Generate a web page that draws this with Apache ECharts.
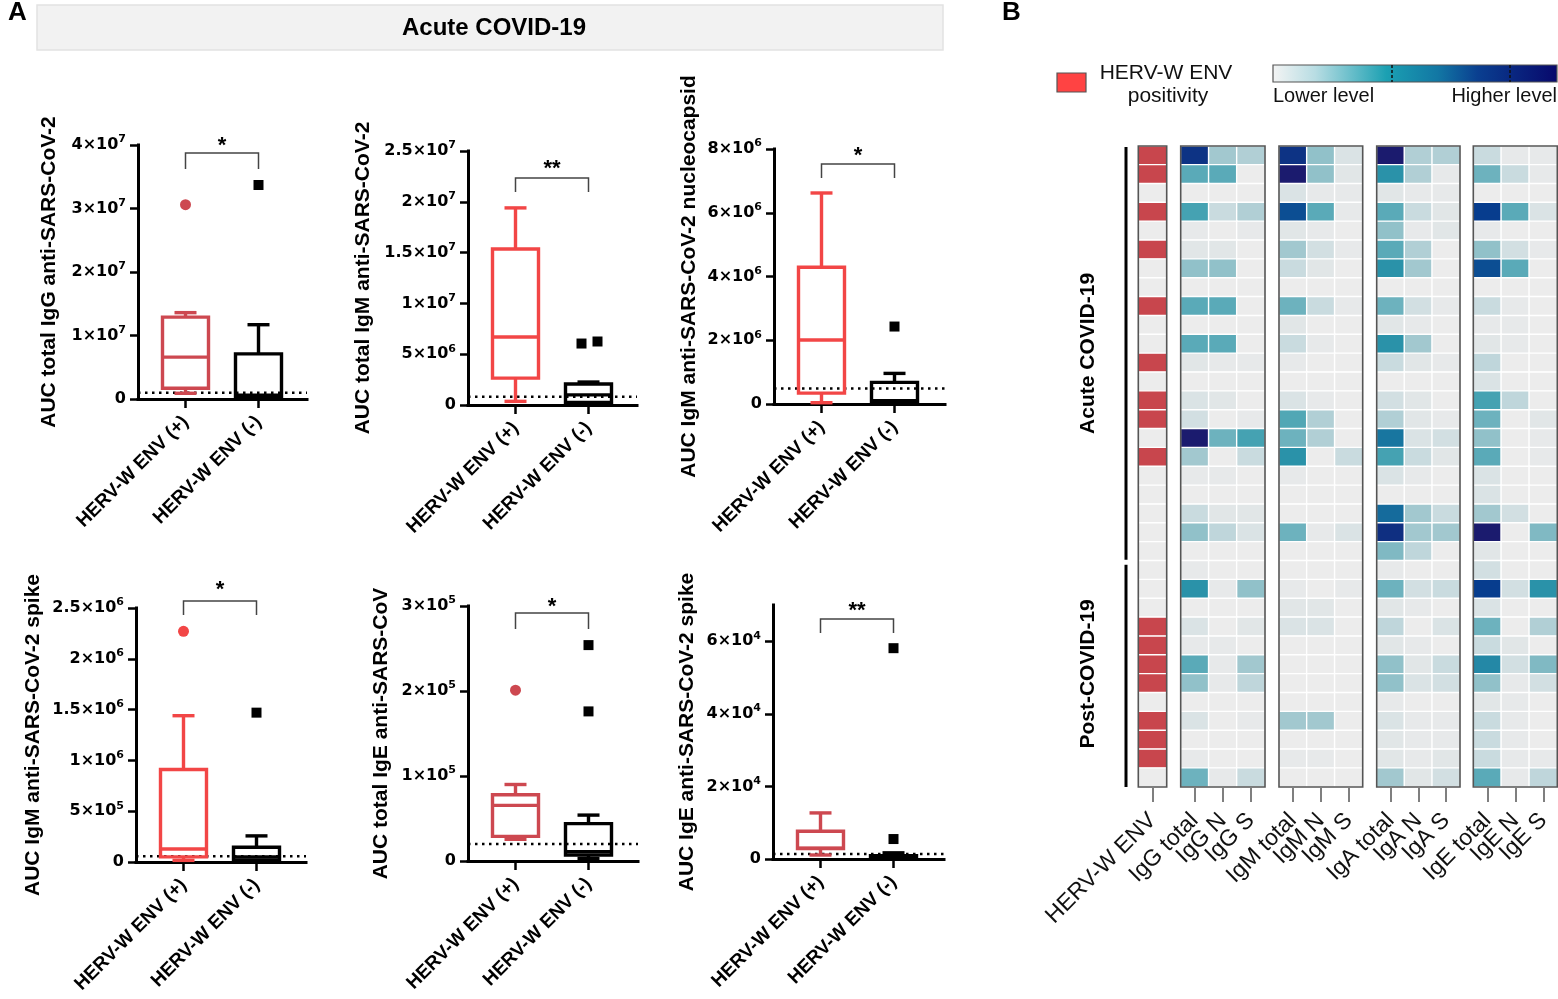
<!DOCTYPE html>
<html><head><meta charset="utf-8">
<script src="https://cdn.jsdelivr.net/npm/echarts@6/dist/echarts.min.js"></script>
<style>html,body{margin:0;padding:0;background:#fff}#c{width:1558px;height:999px}</style>
</head><body><div id="c"></div>
<script>
// ---------------- DATA ----------------
const groupLabels = ['HERV-W ENV (+)', 'HERV-W ENV (-)'];
const panelTitles = [
  'AUC total IgG anti-SARS-CoV-2',
  'AUC total IgM anti-SARS-CoV-2',
  'AUC IgM anti-SARS-CoV-2 nucleocapsid',
  'AUC IgM anti-SARS-CoV-2 spike',
  'AUC total IgE anti-SARS-CoV',
  'AUC IgE anti-SARS-CoV-2 spike'
];
const panelSignif = ['*', '**', '*', '*', '*', '**'];
const panelMax = [4e7, 2.5e7, 8e6, 2.5e6, 3e5, 7e4];
const panelTicks = [
  [0, 1e7, 2e7, 3e7, 4e7],
  [0, 5e6, 1e7, 1.5e7, 2e7, 2.5e7],
  [0, 2e6, 4e6, 6e6, 8e6],
  [0, 5e5, 1e6, 1.5e6, 2e6, 2.5e6],
  [0, 1e5, 2e5, 3e5],
  [0, 2e4, 4e4, 6e4]
];
// [min, Q1, median, Q3, max]
const posBoxes = [
  [9e5, 1.7e6, 6.6e6, 1.29e7, 1.36e7],
  [3.6e5, 2.65e6, 6.7e6, 1.535e7, 1.94e7],
  [4e4, 3.4e5, 2.01e6, 4.29e6, 6.62e6],
  [1.6e4, 5e4, 1.28e5, 9.1e5, 1.44e6],
  [2.55e4, 2.9e4, 6.55e4, 7.8e4, 9e4],
  [1.1e3, 2.9e3, 3.0e3, 7.65e3, 1.27e4]
];
const negBoxes = [
  [2e5, 4e5, 6e5, 7.1e6, 1.17e7],
  [1.3e5, 2.6e5, 1.0e6, 2.06e6, 2.26e6],
  [3e4, 6e4, 1e5, 6.8e5, 9.6e5],
  [1e4, 2e4, 5e4, 1.45e5, 2.57e5],
  [3e3, 7e3, 1.1e4, 4.4e4, 5.4e4],
  [2e2, 4e2, 6e2, 9e2, 1.7e3]
];
const posOutliers = [[3.06e7], [], [], [2.27e6], [2.01e5], []];
const negOutliers = [[3.37e7], [6.05e6, 6.25e6], [2.43e6], [1.47e6], [1.76e5, 2.54e5], [5.5e3, 5.81e4]];
const thresholds = [1e6, 8.2e5, 4.9e5, 5.6e4, 2e4, 1.4e3];

// Heatmap
const hervLabel = ['HERV-W ENV'];
const igGLabels = ['IgG total', 'IgG N', 'IgG S'];
const igMLabels = ['IgM total', 'IgM N', 'IgM S'];
const igALabels = ['IgA total', 'IgA N', 'IgA S'];
const igELabels = ['IgE total', 'IgE N', 'IgE S'];
const hervPositive = [1,1,0,1,0,1,0,0,1,0,0,1,0,1,1,0,1,0,0,0,0,0,0,0,0,1,1,1,1,0,1,1,1,0];
const igG = [
  [0.93,0.4,0.35],[0.6,0.6,0],[0,0,0],[0.65,0.25,0.35],[0.05,0,0.05],[0.1,0.1,0],[0.45,0.45,0],[0,0,0],
  [0.6,0.6,0],[0,0,0],[0.6,0.6,0],[0.1,0.05,0.05],[0,0,0],[0.15,0.1,0],[0.2,0,0.05],[1.0,0.55,0.65],
  [0.4,0,0.25],[0.05,0.05,0],[0,0,0],[0.25,0.1,0.1],[0.45,0.3,0.15],[0,0,0],[0.05,0,0],[0.72,0.05,0.45],
  [0,0,0],[0.15,0,0.1],[0.05,0.05,0],[0.6,0.05,0.4],[0.45,0.05,0.3],[0,0,0],[0.15,0,0.05],[0,0,0],
  [0.05,0,0],[0.55,0.05,0.25]
];
const igM = [
  [0.93,0.45,0.15],[1.0,0.45,0.1],[0.15,0.05,0.05],[0.87,0.6,0.05],[0.1,0.05,0],[0.4,0.2,0.05],[0.25,0.1,0],[0,0,0],
  [0.55,0.25,0.05],[0.1,0,0],[0.25,0.05,0],[0.05,0,0],[0,0,0],[0.15,0.05,0],[0.62,0.35,0],[0.55,0.35,0],
  [0.72,0,0.25],[0.05,0,0],[0,0,0],[0,0,0],[0.55,0.05,0.15],[0,0,0],[0,0,0],[0.05,0,0.05],
  [0.1,0.1,0],[0.15,0.15,0],[0,0,0],[0,0,0],[0,0,0],[0,0,0],[0.4,0.4,0],[0,0,0],
  [0.05,0.05,0],[0,0,0]
];
const igA = [
  [1.0,0.35,0.35],[0.72,0.35,0.05],[0.1,0.05,0.05],[0.6,0.25,0.1],[0.45,0.05,0.1],[0.6,0.35,0],[0.72,0.4,0],[0,0,0],
  [0.55,0.2,0.05],[0.1,0.05,0],[0.72,0.4,0],[0.25,0.1,0.05],[0,0,0],[0.2,0.1,0],[0.35,0.1,0.05],[0.8,0.15,0.2],
  [0.65,0.25,0.1],[0.15,0.05,0],[0,0,0],[0.82,0.4,0.25],[0.94,0.4,0.4],[0.5,0.3,0],[0.05,0,0],[0.55,0.2,0.25],
  [0.1,0.05,0],[0.3,0,0.15],[0.1,0.05,0],[0.45,0.1,0.25],[0.45,0.15,0.2],[0.05,0,0],[0.15,0.05,0.05],[0.1,0.05,0.05],
  [0.1,0.05,0.1],[0.4,0.1,0.2]
];
const igE = [
  [0.25,0.05,0.05],[0.55,0.25,0.05],[0,0,0],[0.9,0.6,0.15],[0.05,0,0],[0.45,0.2,0.05],[0.87,0.6,0],[0,0,0],
  [0.25,0.05,0],[0.05,0.05,0],[0.1,0.05,0],[0.3,0,0],[0.15,0,0],[0.65,0.3,0],[0.55,0,0.1],[0.45,0,0.05],
  [0.6,0,0.05],[0.15,0,0],[0.15,0,0],[0.4,0.2,0],[1.0,0,0.5],[0.1,0,0],[0.2,0,0],[0.9,0.2,0.72],
  [0.15,0,0],[0.55,0,0.35],[0.25,0.1,0],[0.75,0.2,0.5],[0.45,0.05,0.2],[0.1,0.05,0],[0.25,0.05,0],[0.25,0.05,0],
  [0.25,0.05,0.05],[0.6,0.05,0.3]
];

// ---------------- LAYOUT / STYLE ----------------
const FONT = '"Liberation Sans", Arial, Helvetica, sans-serif';
const TICKFONT = '"DejaVu Sans", "Liberation Sans", sans-serif';
const frames = [
  {l:138, t:145, w:169, b:399, gap:78, br:[8,24,-5]},
  {l:468, t:151, w:169, b:405, gap:94, br:[27,41,12]},
  {l:774, t:149, w:171, b:404, gap:74, br:[15,29,1]},
  {l:136, t:608, w:170, b:862, gap:92, br:[-7,7,-24]},
  {l:468, t:606, w:170, b:861, gap:76, br:[7,23,-5]},
  {l:773, t:605, w:171, b:859, gap:75, br:[14,28,0]}
];
const posColors = ['#cd4850', '#f24646', '#f24646', '#f24646', '#cd4850', '#cd4850'];
const negJitter = [[0], [-7, 9], [0], [0], [0, 0], [0, 0]];
const BOX_W = 46, CAP_W = 22, INNER_OFF = 11, INNER_W = 146, LW = 3.4;

const heatTop = 146, heatBottom = 787;
const heatGroups = [
  {left:1138.3, width:28.4, labels:hervLabel, rows:null},
  {left:1180.7, width:84.3, labels:igGLabels, rows:igG},
  {left:1279, width:83.7, labels:igMLabels, rows:igM},
  {left:1376.7, width:83.3, labels:igALabels, rows:igA},
  {left:1473.3, width:84, labels:igELabels, rows:igE}
];
const heatPalette = ['#ececec','#e1e6e7','#d2dfe2','#bfd6db','#a2c8cf','#80b9c3','#5aaab8','#2f99ab','#1876a0','#073d8e','#1b1b6e'];

function sci(v) {
  if (v === 0) return '{m|0}';
  const e = Math.floor(Math.log10(v) + 1e-9);
  const m = +(v / Math.pow(10, e)).toFixed(2);
  return '{m|' + m + '×10}{e|' + e + '}';
}

const grids = [], xAxes = [], yAxes = [], series = [];

panelTitles.forEach((title, i) => {
  const F = frames[i];
  const h = F.b - F.t;
  grids.push({left:F.l, top:F.t, width:F.w, height:h});
  const gF = grids.length - 1;
  xAxes.push({gridIndex:gF, type:'value', min:0, max:1, axisLine:{show:true, lineStyle:{color:'#000', width:3, cap:'square'}},
    axisTick:{show:false}, axisLabel:{show:false}, splitLine:{show:false}});
  const xF = xAxes.length - 1;
  yAxes.push({gridIndex:gF, type:'value', min:0, max:panelMax[i],
    name:title, nameLocation:'middle', nameGap:F.gap,
    nameTextStyle:{fontFamily:FONT, fontWeight:'bold', fontSize:21, color:'#000'},
    axisLine:{show:true, lineStyle:{color:'#000', width:3, cap:'square'}},
    axisTick:{show:true, length:8, lineStyle:{color:'#000', width:2.5}, customValues:panelTicks[i]},
    axisLabel:{customValues:panelTicks[i], margin:12, formatter:sci,
      rich:{m:{fontFamily:TICKFONT, fontWeight:'bold', fontSize:16, color:'#000', lineHeight:22},
            e:{fontFamily:TICKFONT, fontWeight:'bold', fontSize:11, color:'#000', lineHeight:8, verticalAlign:'top'}}},
    splitLine:{show:false}});
  const yF = yAxes.length - 1;
  grids.push({left:F.l + INNER_OFF, top:F.t, width:INNER_W, height:h});
  const gD = grids.length - 1;
  xAxes.push({gridIndex:gD, type:'category', data:groupLabels, axisLine:{show:false},
    axisTick:{show:true, alignWithLabel:true, length:9, lineStyle:{color:'#000', width:2.5}},
    axisLabel:{rotate:45, interval:0, margin:20, fontFamily:FONT, fontWeight:'bold', fontSize:19, color:'#000'},
    splitLine:{show:false}});
  const xD = xAxes.length - 1;
  yAxes.push({gridIndex:gD, type:'value', min:0, max:panelMax[i], show:false, splitLine:{show:false}});
  const yD = yAxes.length - 1;

  series.push({type:'line', xAxisIndex:xF, yAxisIndex:yF, silent:true, symbol:'none',
    data:[[0, thresholds[i]], [1, thresholds[i]]],
    lineStyle:{color:'#000', width:2.5, type:[2.5, 4.5]}, z:1});

  const posColor = posColors[i];
  series.push({type:'custom', xAxisIndex:xD, yAxisIndex:yD, clip:false, silent:true,
    encode:{x:0, y:[1,2,3,4,5]},
    data:[[0].concat(posBoxes[i]), [1].concat(negBoxes[i])],
    renderItem:function(params, api){
      const idx = api.value(0);
      const v = [1,2,3,4,5].map(k => api.value(k));
      const ys = v.map(val => api.coord([idx, val])[1]);
      const cx = api.coord([idx, v[2]])[0];
      const color = idx === 0 ? posColor : '#000';
      const ls = {stroke:color, lineWidth:LW, fill:'transparent'};
      const hw = BOX_W / 2, hc = CAP_W / 2;
      return {type:'group', children:[
        {type:'line', shape:{x1:cx, y1:ys[4], x2:cx, y2:ys[3]}, style:ls},
        {type:'line', shape:{x1:cx, y1:ys[1], x2:cx, y2:ys[0]}, style:ls},
        {type:'line', shape:{x1:cx-hc, y1:ys[4], x2:cx+hc, y2:ys[4]}, style:ls},
        {type:'line', shape:{x1:cx-hc, y1:ys[0], x2:cx+hc, y2:ys[0]}, style:ls},
        {type:'rect', shape:{x:cx-hw, y:ys[3], width:BOX_W, height:ys[1]-ys[3]}, style:ls},
        {type:'line', shape:{x1:cx-hw, y1:ys[2], x2:cx+hw, y2:ys[2]}, style:ls}
      ]};
    }});

  series.push({type:'scatter', xAxisIndex:xD, yAxisIndex:yD, silent:true, symbol:'circle', symbolSize:11,
    itemStyle:{color:posColor, opacity:1}, data:posOutliers[i].map(v => [0, v])});
  series.push({type:'scatter', xAxisIndex:xD, yAxisIndex:yD, silent:true, symbol:'rect', symbolSize:10,
    itemStyle:{color:'#000', opacity:1},
    data:negOutliers[i].map((v, k) => ({value:[1, v], symbolOffset:[negJitter[i][k] || 0, 0]}))});

  const br = F.br, sig = panelSignif[i], mx = panelMax[i];
  series.push({type:'custom', xAxisIndex:xD, yAxisIndex:yD, clip:false, silent:true,
    encode:{x:0, y:1}, data:[[0, mx]],
    renderItem:function(params, api){
      const a = api.coord([0, mx]), b = api.coord([1, mx]);
      const top = a[1];
      const y1 = top + br[0], y2 = top + br[1];
      return {type:'group', children:[
        {type:'polyline', shape:{points:[[a[0], y2], [a[0], y1], [b[0], y1], [b[0], y2]]},
          style:{stroke:'#444', lineWidth:1.5, fill:'transparent'}},
        {type:'text', style:{x:(a[0]+b[0])/2, y:top + br[2] + 6, text:sig, align:'center', verticalAlign:'middle',
          fontFamily:FONT, fontWeight:'bold', fontSize:22, fill:'#000'}}
      ]};
    }});
});

// ---------------- HEATMAP ----------------
const rowCats = hervPositive.map((_, k) => String(k));
const hervSeries = [], igSeries = [];
heatGroups.forEach((G, gi) => {
  grids.push({left:G.left, top:heatTop, width:G.width, height:heatBottom - heatTop, show:true,
    borderColor:'#555', borderWidth:1.6, backgroundColor:'transparent', z:5});
  const g = grids.length - 1;
  xAxes.push({gridIndex:g, type:'category', data:G.labels, position:'bottom', axisLine:{show:false},
    axisTick:{show:true, alignWithLabel:true, length:15, lineStyle:{color:'#555', width:1.5}},
    axisLabel:{rotate:45, interval:0, hideOverlap:false, margin:30, fontFamily:FONT, fontSize:23, color:'#111'},
    splitLine:{show:false}});
  const xi = xAxes.length - 1;
  yAxes.push({gridIndex:g, type:'category', data:rowCats, inverse:true, show:false});
  const yi = yAxes.length - 1;
  let data;
  if (G.rows === null) {
    data = hervPositive.map((v, r) => [0, r, v]);
  } else {
    data = [];
    G.rows.forEach((row, r) => row.forEach((v, c) => data.push([c, r, v])));
  }
  series.push({type:'heatmap', xAxisIndex:xi, yAxisIndex:yi, silent:true, data:data,
    itemStyle:{borderColor:'#ffffff', borderWidth:1.4}});
  if (G.rows === null) hervSeries.push(series.length - 1); else igSeries.push(series.length - 1);
});

// ---------------- GRAPHICS ----------------
const rowH = (heatBottom - heatTop) / hervPositive.length;
const acuteEnd = heatTop + rowH * 22;
const legendGrad = new echarts.graphic.LinearGradient(0, 0, 1, 0, [
  {offset:0, color:'#f4f4f4'}, {offset:0.15, color:'#b8dde3'}, {offset:0.4, color:'#1ba0b2'},
  {offset:0.58, color:'#1277a4'}, {offset:0.72, color:'#0a3f90'}, {offset:1, color:'#08086c'}
]);
const graphic = [
  {type:'text', left:8, top:0, style:{text:'A', fontFamily:FONT, fontWeight:'bold', fontSize:26, fill:'#000'}},
  {type:'text', left:1002, top:0, style:{text:'B', fontFamily:FONT, fontWeight:'bold', fontSize:26, fill:'#000'}},
  {type:'rect', shape:{x:37, y:5, width:906, height:45}, style:{fill:'#f2f2f2', stroke:'#e2e2e2', lineWidth:1.5}, z:-1},
  {type:'text', x:494, y:28, style:{text:'Acute COVID-19', align:'center', verticalAlign:'middle', fontFamily:FONT, fontWeight:'bold', fontSize:24, fill:'#000'}},
  {type:'rect', shape:{x:1057, y:73, width:29, height:19}, style:{fill:'#ff4343', stroke:'#555', lineWidth:1.2}},
  {type:'text', x:1166, y:73, style:{text:'HERV-W ENV', align:'center', verticalAlign:'middle', fontFamily:FONT, fontSize:21, fill:'#111'}},
  {type:'text', x:1168, y:96, style:{text:'positivity', align:'center', verticalAlign:'middle', fontFamily:FONT, fontSize:21, fill:'#111'}},
  {type:'rect', shape:{x:1273, y:65, width:284, height:17}, style:{fill:legendGrad, stroke:'#555', lineWidth:1.2}},
  {type:'line', shape:{x1:1392, y1:65, x2:1392, y2:82}, style:{stroke:'#111', lineWidth:1.5, lineDash:[3,2]}},
  {type:'line', shape:{x1:1510, y1:65, x2:1510, y2:82}, style:{stroke:'#111', lineWidth:1.5, lineDash:[3,2]}},
  {type:'text', x:1273, y:96, style:{text:'Lower level', align:'left', verticalAlign:'middle', fontFamily:FONT, fontSize:20, fill:'#111'}},
  {type:'text', x:1557, y:96, style:{text:'Higher level', align:'right', verticalAlign:'middle', fontFamily:FONT, fontSize:20, fill:'#111'}},
  {type:'line', shape:{x1:1126, y1:heatTop + 1, x2:1126, y2:acuteEnd - 1}, style:{stroke:'#000', lineWidth:3}},
  {type:'line', shape:{x1:1126, y1:acuteEnd + 4, x2:1126, y2:heatBottom}, style:{stroke:'#000', lineWidth:3}},
  {type:'text', x:1088, y:(heatTop + acuteEnd) / 2, rotation:Math.PI / 2,
    style:{text:'Acute COVID-19', align:'center', verticalAlign:'middle', fontFamily:FONT, fontWeight:'bold', fontSize:21, fill:'#000'}},
  {type:'text', x:1088, y:(acuteEnd + heatBottom) / 2, rotation:Math.PI / 2,
    style:{text:'Post-COVID-19', align:'center', verticalAlign:'middle', fontFamily:FONT, fontWeight:'bold', fontSize:21, fill:'#000'}}
];

const option = {
  backgroundColor:'#ffffff',
  animation:false,
  grid:grids, xAxis:xAxes, yAxis:yAxes, series:series,
  visualMap:[
    {type:'piecewise', show:false, seriesIndex:hervSeries, dimension:2,
      pieces:[{value:1, color:'#c8464d'}, {value:0, color:'#ececec'}]},
    {type:'continuous', show:false, seriesIndex:igSeries, dimension:2, min:0, max:1,
      inRange:{color:heatPalette}}
  ],
  graphic:graphic
};
const chart = echarts.init(document.getElementById('c'));
chart.setOption(option);
</script></body></html>
